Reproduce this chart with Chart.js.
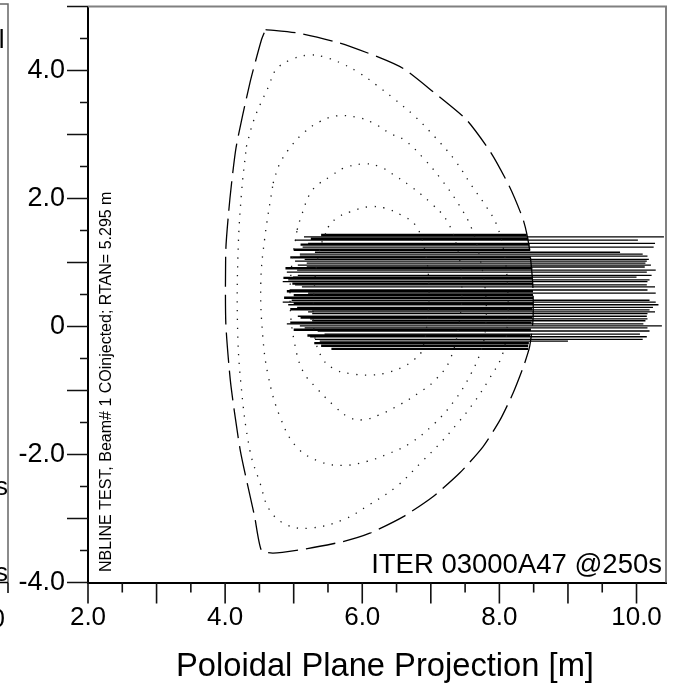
<!DOCTYPE html>
<html>
<head>
<meta charset="utf-8">
<script src="https://cdn.jsdelivr.net/npm/chart.js@4.4.1/dist/chart.umd.min.js"></script>
<style>
  html, body { margin: 0; padding: 0; background: #fff; }
  #wrap { width: 673px; height: 687px; }
</style>
</head>
<body>
<div id="wrap"><canvas id="poloidal" width="673" height="687"></canvas></div>
<script>
// Font and labels
const FONT = '"Liberation Sans", Arial, Helvetica, sans-serif';
const X_TITLE = 'Poloidal Plane Projection [m]';
const SIDE_NOTE = 'NBLINE TEST, Beam# 1 COinjected; RTAN= 5.295 m';
const CASE_NOTE = 'ITER 03000A47 @250s';

// Axis ranges / ticks
const X_MIN = 2, X_MAX = 10.43;
const Y_MIN = -4, Y_MAX = 5;
const TICK_STEP = 0.5;
const xTickLabels = ['2.0', '4.0', '6.0', '8.0', '10.0'];
const yTickLabels = ['-4.0', '-2.0', '0', '2.0', '4.0'];

// Plasma boundary (dashed), R and Z in m
const edgeR = [4.59, 5.09, 5.67, 6.21, 6.60, 7.03, 7.52, 7.88, 8.15, 8.35, 8.44, 8.49, 8.49, 8.44, 8.35, 8.20, 8.01, 7.76, 7.42, 7.03, 6.60, 6.11, 5.72, 5.20, 4.70, 4.53, 4.43, 4.22, 4.08, 4.01, 4.01, 4.07, 4.16, 4.36, 4.53, 4.59];
const edgeZ = [4.64, 4.58, 4.43, 4.22, 4.03, 3.67, 3.23, 2.71, 2.18, 1.66, 1.20, 0.60, 0.10, -0.32, -0.63, -1.04, -1.46, -1.88, -2.29, -2.66, -2.97, -3.23, -3.36, -3.47, -3.54, -3.50, -2.97, -1.93, -0.88, 0.05, 1.20, 2.00, 2.80, 3.80, 4.48, 4.64];

// Flux surfaces (dotted), outermost first
const flux1R = [4.31, 4.41, 4.52, 4.63, 4.74, 4.94, 5.21, 5.45, 5.72, 5.96, 6.21, 6.45, 6.77, 7.06, 7.35, 7.59, 7.81, 7.96, 8.07, 8.12, 8.12, 8.05, 7.84, 7.62, 7.40, 7.13, 6.89, 6.50, 6.11, 5.72, 5.24, 4.90, 4.65, 4.51, 4.36, 4.23, 4.18, 4.19, 4.24, 4.31];
const flux1Z = [2.81, 3.20, 3.49, 3.74, 4.01, 4.16, 4.24, 4.21, 4.10, 3.96, 3.77, 3.57, 3.28, 2.96, 2.60, 2.21, 1.87, 1.59, 1.15, 0.60, 0.10, -0.42, -0.84, -1.20, -1.50, -1.83, -2.09, -2.50, -2.78, -3.02, -3.15, -3.10, -2.87, -2.45, -1.93, -0.89, 0.05, 1.20, 2.10, 2.81];
const flux2R = [4.70, 4.80, 4.98, 5.16, 5.38, 5.62, 5.92, 6.16, 6.40, 6.62, 6.90, 7.15, 7.40, 7.60, 7.72, 7.80, 7.80, 7.74, 7.58, 7.35, 7.05, 6.69, 6.40, 6.06, 5.72, 5.38, 5.04, 4.80, 4.63, 4.55, 4.52, 4.58, 4.70];
const flux2Z = [2.24, 2.55, 2.84, 3.04, 3.20, 3.29, 3.27, 3.18, 3.02, 2.91, 2.62, 2.30, 1.92, 1.52, 1.05, 0.50, 0.00, -0.35, -0.75, -1.15, -1.52, -1.83, -1.98, -2.11, -2.17, -2.11, -1.88, -1.41, -0.78, -0.16, 0.68, 1.40, 2.24];
const flux3R = [5.05, 5.10, 5.24, 5.38, 5.53, 5.72, 6.01, 6.25, 6.50, 6.72, 7.01, 7.23, 7.38, 7.45, 7.42, 7.28, 7.06, 6.82, 6.55, 6.25, 5.99, 5.79, 5.60, 5.34, 5.14, 5.02, 4.95, 4.97, 5.05];
const flux3Z = [1.51, 1.69, 2.08, 2.24, 2.34, 2.47, 2.54, 2.50, 2.34, 2.18, 1.92, 1.66, 1.25, 0.70, 0.10, -0.52, -0.84, -1.04, -1.22, -1.38, -1.46, -1.41, -1.25, -0.97, -0.71, -0.30, 0.30, 0.95, 1.51];
const flux4R = [5.50, 5.62, 5.82, 6.09, 6.33, 6.57, 6.77, 6.90, 6.97, 6.95, 6.86, 6.74, 6.60, 6.33, 6.09, 5.85, 5.62, 5.42, 5.30, 5.30, 5.38, 5.50];
const flux4Z = [1.55, 1.69, 1.79, 1.87, 1.85, 1.74, 1.59, 1.25, 0.70, 0.10, -0.40, -0.53, -0.63, -0.73, -0.76, -0.74, -0.68, -0.50, -0.10, 0.60, 1.20, 1.55];

// Beam tracks that shine through: height Z, start R, end R
const beamZ = [1.40, 1.35, 1.30, 1.24, 1.16, 1.13, 1.10, 1.05, 1.02, 0.99, 0.96, 0.93, 0.88, 0.85, 0.80, 0.77, 0.73, 0.70, 0.65, 0.62, 0.57, 0.52,
  0.41, 0.38, 0.34, 0.30, 0.26, 0.23, 0.20, 0.16, 0.12, 0.09, 0.04, 0.01, -0.02, -0.07, -0.12, -0.16, -0.20, -0.23];
const beamStart = [5.15, 5.02, 5.21, 5.13, 5.31, 5.09, 5.09, 5.16, 5.02, 5.19, 5.06, 5.19, 5.05, 4.90, 5.06, 4.99, 4.92, 4.84, 5.02, 5.12, 4.94, 5.21,
  4.97, 4.84, 4.92, 5.05, 5.27, 5.21, 5.27, 5.06, 5.24, 5.27, 4.90, 5.09, 5.16, 5.35, 5.45, 5.24, 5.31, 5.38];
const beamEnd = [10.40, 10.02, 10.27, 10.25, 9.76, 10.09, 10.16, 10.18, 10.15, 10.13, 10.21, 10.12, 10.28, 10.15, 10.22, 10.00, 10.19, 10.16, 10.15, 10.27, 10.16, 10.28,
  10.19, 10.28, 10.32, 10.24, 10.19, 10.27, 10.16, 10.15, 10.16, 10.13, 10.10, 10.37, 10.16, 10.19, 10.05, 10.15, 10.09, 9.00];

// Beam tracks stopped at the plasma edge
const stopZ = [1.43, 1.37, 1.28, 1.20, 1.08, 0.91, 0.76, 0.67, 0.55, 0.49, 0.45, 0.36, 0.27, 0.14, 0.06, -0.05, -0.14, -0.26, -0.30, -0.35];
const stopStart = [5.40, 5.25, 5.10, 5.00, 4.95, 4.88, 4.85, 4.98, 4.90, 5.00, 4.86, 5.00, 4.95, 5.10, 4.95, 5.00, 5.20, 5.30, 5.40, 5.55];
const stopEnd = [8.40, 8.42, 8.44, 8.45, 8.46, 8.48, 8.49, 8.49, 8.49, 8.49, 8.49, 8.49, 8.48, 8.48, 8.47, 8.46, 8.45, 8.43, 8.42, 8.42];

// Helpers
const toPoints = (rs, zs) => rs.map((r, i) => ({ x: r, y: zs[i] }));
const fmtTick = (v, labels) => {
    const s = v === 0 ? '0' : v.toFixed(1);
    return labels.includes(s) ? s : '';
};

const fluxSurface = (rs, zs) => ({
    data: toPoints(rs, zs),
    showLine: true,
    borderColor: '#1a1a1a',
    borderWidth: 1.3,
    borderDash: [1.3, 7.5],
    tension: 0.4,
    pointRadius: 0
});

const track = (z, r0, r1, width) => ({
    data: [{ x: r0, y: z }, { x: r1, y: z }],
    showLine: true,
    borderColor: '#000',
    borderWidth: width,
    pointRadius: 0
});

const datasets = [
    fluxSurface(flux1R, flux1Z),
    fluxSurface(flux2R, flux2Z),
    fluxSurface(flux3R, flux3Z),
    fluxSurface(flux4R, flux4Z)
];

stopZ.forEach((z, i) => datasets.push(track(z, stopStart[i], stopEnd[i], 2.4)));
beamZ.forEach((z, i) => datasets.push(track(z, beamStart[i], beamEnd[i], 1.3)));

datasets.push({
    data: toPoints(edgeR, edgeZ),
    showLine: true,
    borderColor: '#000',
    borderWidth: 1.3,
    borderDash: [30, 8],
    tension: 0.2,
    pointRadius: 0
});

// pin the plot box: no extra room for label overhang
const noOverhang = s => {
    s.paddingTop = 0; s.paddingBottom = 0;
    s.paddingLeft = 0; s.paddingRight = 0;
};

// Extra drawing: tick marks, frame, notes, clipped neighbour panel
const decorations = {
    id: 'decorations',
    beforeDraw(chart) {
        const { ctx } = chart;
        ctx.save();
        ctx.fillStyle = '#fff';
        ctx.fillRect(0, 0, chart.width, chart.height);
        // edge of the neighbouring panel
        ctx.strokeStyle = '#666';
        ctx.lineWidth = 1.5;
        ctx.beginPath();
        ctx.moveTo(0, 4); ctx.lineTo(8, 4); ctx.lineTo(8, 582.5);
        ctx.stroke();
        ctx.strokeStyle = '#000';
        ctx.beginPath();
        ctx.moveTo(0, 582.5); ctx.lineTo(8, 582.5);
        ctx.moveTo(8, 582.5); ctx.lineTo(8, 593);
        ctx.stroke();
        ctx.fillStyle = '#000';
        ctx.font = `26px ${FONT}`;
        ctx.textAlign = 'right';
        ctx.textBaseline = 'alphabetic';
        ctx.fillText('l', 4.5, 48);
        ctx.fillText('s', 8, 495);
        ctx.fillText('s', 8, 581);
        ctx.fillText('0', 5, 627);
        ctx.restore();
    },
    afterDraw(chart) {
        const { ctx, chartArea: a, scales: { x, y } } = chart;
        ctx.save();
        // top and right frame
        ctx.strokeStyle = '#808080';
        ctx.lineWidth = 2;
        ctx.beginPath();
        ctx.moveTo(a.left, a.top); ctx.lineTo(a.right, a.top); ctx.lineTo(a.right, a.bottom);
        ctx.stroke();
        // tick marks: long on whole metres, short on halves
        ctx.strokeStyle = '#111';
        ctx.lineWidth = 1.6;
        ctx.beginPath();
        x.ticks.forEach(t => {
            const px = x.getPixelForValue(t.value);
            const len = Number.isInteger(t.value) ? 21 : 10;
            ctx.moveTo(px, a.bottom); ctx.lineTo(px, a.bottom + len);
        });
        y.ticks.forEach(t => {
            const py = y.getPixelForValue(t.value);
            const len = Number.isInteger(t.value) ? 21 : 8;
            ctx.moveTo(a.left, py); ctx.lineTo(a.left - len, py);
        });
        ctx.stroke();
        // notes
        ctx.fillStyle = '#000';
        ctx.font = `27.5px ${FONT}`;
        ctx.textAlign = 'right';
        ctx.textBaseline = 'alphabetic';
        ctx.fillText(CASE_NOTE, 662, 573);
        ctx.font = `32.7px ${FONT}`;
        ctx.textAlign = 'center';
        ctx.fillText(X_TITLE, 385, 676);
        ctx.translate(111, 572);
        ctx.rotate(-Math.PI / 2);
        ctx.font = `16px ${FONT}`;
        ctx.textAlign = 'left';
        ctx.fillText(SIDE_NOTE, 0, 0);
        ctx.restore();
    }
};

const chart = new Chart(document.getElementById('poloidal'), {
    type: 'scatter',
    data: { datasets },
    options: {
        responsive: false,
        animation: false,
        events: [],
        layout: { padding: { top: 6.5, right: 7, left: 0, bottom: 0 } },
        plugins: { legend: { display: false }, tooltip: { enabled: false } },
        scales: {
            x: {
                type: 'linear',
                min: X_MIN,
                max: X_MAX,
                afterFit: s => { s.height = 104.5; noOverhang(s); },
                grid: { display: false, drawTicks: false },
                border: { display: true, color: '#000', width: 2 },
                ticks: {
                    stepSize: TICK_STEP,
                    includeBounds: false,
                    autoSkip: false,
                    maxRotation: 0,
                    padding: 20,
                    color: '#000',
                    font: { family: FONT, size: 26 },
                    callback: v => fmtTick(v, xTickLabels)
                }
            },
            y: {
                type: 'linear',
                min: Y_MIN,
                max: Y_MAX,
                afterFit: s => { s.width = 88; noOverhang(s); },
                grid: { display: false, drawTicks: false },
                border: { display: true, color: '#000', width: 2 },
                ticks: {
                    stepSize: TICK_STEP,
                    includeBounds: false,
                    autoSkip: false,
                    padding: 23,
                    color: '#000',
                    font: { family: FONT, size: 27 },
                    callback: v => fmtTick(v, yTickLabels)
                }
            }
        }
    },
    plugins: [decorations]
});
</script>
</body>
</html>
